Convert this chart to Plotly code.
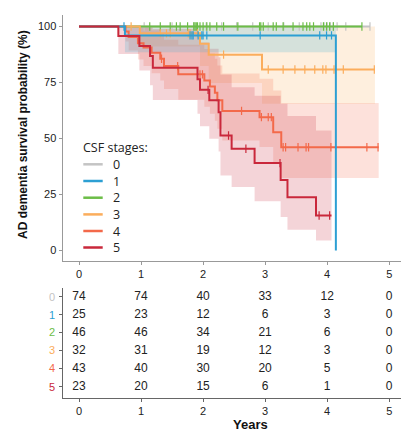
import plotly.graph_objects as go

# ---------------- data ----------------
stages = ["0", "1", "2", "3", "4", "5"]
colors = ["#c4c4c4", "#2c9fd3", "#6cbd47", "#fbad5c", "#f3694a", "#c9283b"]
fills = [None, "rgba(68,178,210,0.22)", None, "rgba(251,173,92,0.2)",
         "rgba(243,105,74,0.2)", "rgba(201,40,59,0.2)"]

# stage 0
s0_times = [0.0]
s0_surv = [100.0]
s0_end = 4.69
s0_cens = [1.05, 1.5, 1.85, 2.05, 2.3, 2.54, 2.8, 3.05, 3.3, 3.55, 3.9, 3.95,
           4.0, 4.05, 4.1, 4.16, 4.3, 4.69]
# stage 1
s1_times = [0.0, 0.74, 4.14]
s1_surv = [100.0, 96.0, 0.0]
s1_lower = [100.0, 88.5, 0.0]
s1_upper = [100.0, 100.0, 0.0]
s1_end = 4.14
s1_cens = [0.725, 1.79, 1.82, 1.84, 1.92, 1.98, 2.0, 2.06, 2.92, 3.88, 3.99, 4.07]
# stage 2
s2_times = [0.0]
s2_surv = [100.0]
s2_end = 4.56
s2_cens = [1.14, 1.31, 1.47, 1.57, 1.63, 1.75, 1.85, 1.87, 1.89, 1.91, 1.95, 2.0,
           2.06, 2.11, 2.22, 2.33, 2.56, 2.91, 2.93, 2.97, 3.13, 3.18, 3.29, 3.45,
           3.61, 3.67, 3.72, 3.78, 3.94, 3.99, 4.04, 4.10, 4.56]
# stage 3
s3_times = [0.0, 0.98, 1.95, 2.09, 2.95]
s3_surv = [100.0, 96.9, 92.3, 87.4, 80.8]
s3_lower = [100.0, 91.0, 82.3, 74.8, 65.5]
s3_upper = [100.0, 100.0, 100.0, 100.0, 100.0]
s3_end = 4.77
s3_cens = [0.84, 1.31, 1.41, 1.47, 1.76, 1.79, 1.91, 2.33, 3.05, 3.29, 3.48,
           3.64, 3.80, 3.93, 3.98, 4.11, 4.26, 4.76]
# stage 4
s4_times = [0.0, 0.75, 0.80, 0.95, 1.04, 1.17, 1.31, 1.37, 1.60, 2.02, 2.11,
            2.19, 2.23, 2.31, 2.91, 3.13, 3.26]
s4_surv = [100.0, 97.7, 95.3, 92.5, 90.6, 88.2, 85.6, 82.3, 78.6, 75.9, 73.2,
           70.4, 67.0, 62.3, 59.5, 52.8, 46.1]
s4_lower = [100.0, 93.3, 89.2, 85.2, 82.3, 79.1, 75.9, 72.1, 67.3, 64.1, 61.0,
            57.9, 54.3, 49.1, 46.2, 39.0, 32.4]
s4_upper = [100.0, 100.0, 100.0, 100.0, 99.7, 98.3, 96.6, 94.0, 91.8, 89.9,
            87.9, 85.6, 82.6, 79.0, 76.7, 71.4, 65.8]
s4_end = 4.83
s4_cens = [1.33, 1.59, 1.95, 1.99, 2.62, 2.94, 3.05, 3.10, 3.29, 3.33, 3.53,
           3.66, 3.70, 4.06, 4.64, 4.82]
# stage 5
s5_times = [0.0, 0.634, 0.973, 1.145, 1.19, 1.91, 1.95, 2.10, 2.25, 2.28, 2.46,
            2.83, 3.25, 3.36, 3.82]
s5_surv = [100.0, 95.7, 91.3, 86.8, 81.6, 76.4, 71.7, 67.0, 61.7, 51.3, 45.4,
           39.0, 31.5, 23.8, 15.6]
s5_lower = [100.0, 87.7, 80.3, 73.7, 67.2, 61.0, 55.4, 49.9, 44.2, 33.5, 28.3,
            22.0, 14.9, 9.2, 4.5]
s5_upper = [100.0, 100.0, 100.0, 100.0, 98.9, 95.2, 92.8, 90.0, 86.2, 78.5,
            72.8, 69.1, 65.5, 60.0, 53.5]
s5_end = 4.07
s5_cens = [2.08, 2.41, 2.69, 3.24, 3.87, 4.04]

# numbers at risk
risk_years = [0, 1, 2, 3, 4, 5]
risk_0 = [74, 74, 40, 33, 12, 0]
risk_1 = [25, 23, 12, 6, 3, 0]
risk_2 = [46, 46, 34, 21, 6, 0]
risk_3 = [32, 31, 19, 12, 3, 0]
risk_4 = [43, 40, 30, 20, 5, 0]
risk_5 = [23, 20, 15, 6, 1, 0]

y_ticks = [0, 25, 50, 75, 100]

# ---------------- helpers ----------------
W, H = 404, 433


def px(x):
    return x / W


def py(y):
    return 1 - y / H


def step_value(times, surv, t):
    v = surv[0]
    for tt, s in zip(times, surv):
        if tt <= t:
            v = s
    return v


def ci_poly(times, lower, upper, end):
    xs, ys = [], []
    n = len(times)
    for i in range(n):
        tn = times[i + 1] if i + 1 < n else end
        xs += [times[i], tn]
        ys += [upper[i], upper[i]]
    for i in reversed(range(n)):
        tn = times[i + 1] if i + 1 < n else end
        xs += [tn, times[i]]
        ys += [lower[i], lower[i]]
    return xs, ys


curves = [
    (s0_times, s0_surv, None, None, s0_end, s0_cens),
    (s1_times, s1_surv, s1_lower, s1_upper, s1_end, s1_cens),
    (s2_times, s2_surv, None, None, s2_end, s2_cens),
    (s3_times, s3_surv, s3_lower, s3_upper, s3_end, s3_cens),
    (s4_times, s4_surv, s4_lower, s4_upper, s4_end, s4_cens),
    (s5_times, s5_surv, s5_lower, s5_upper, s5_end, s5_cens),
]

fig = go.Figure()

# confidence bands
for k in [3, 4, 5, 1]:
    times, surv, lo, up, end, cens = curves[k]
    xs, ys = ci_poly(times, lo, up, end)
    fig.add_trace(go.Scatter(x=xs, y=ys, mode="lines", line=dict(width=0),
                             fill="toself", fillcolor=fills[k],
                             hoverinfo="skip", showlegend=False,
                             xaxis="x", yaxis="y"))

# survival lines + censor marks
for k in [0, 2, 3, 4, 1, 5]:
    times, surv, lo, up, end, cens = curves[k]
    fig.add_trace(go.Scatter(x=list(times) + [end], y=list(surv) + [surv[-1]],
                             mode="lines", line=dict(color=colors[k], width=2,
                                                     shape="hv"),
                             showlegend=False, xaxis="x", yaxis="y"))
    fig.add_trace(go.Scatter(x=cens, y=[step_value(times, surv, t) for t in cens],
                             mode="markers",
                             marker=dict(symbol="line-ns", size=6,
                                         line=dict(color=colors[k], width=1.2)),
                             showlegend=False, xaxis="x", yaxis="y"))

# risk table
risk_rows = [risk_0, risk_1, risk_2, risk_3, risk_4, risk_5]
tx, ty, tt = [], [], []
for i, row in enumerate(risk_rows):
    for yr, v in zip(risk_years, row):
        tx.append(yr)
        ty.append(i)
        tt.append(str(v))
fig.add_trace(go.Scatter(x=tx, y=ty, text=tt, mode="text",
                         textfont=dict(family="Liberation Sans, Arial", size=12,
                                       color="#222"),
                         showlegend=False, xaxis="x2", yaxis="y2"))

tickfont = dict(family="Liberation Sans, Arial", size=11, color="#222")
xdom = [px(62.7), px(401)]
xrange = [-0.263, 5.19]

fig.update_layout(
    width=W, height=H, autosize=False,
    margin=dict(l=0, r=0, t=0, b=0),
    paper_bgcolor="white", plot_bgcolor="white",
    xaxis=dict(domain=xdom, range=xrange, anchor="y", tickvals=risk_years,
               ticks="outside", ticklen=3, tickcolor="#999", showline=True,
               linecolor="#999", linewidth=1.3, showgrid=False, zeroline=False,
               tickfont=tickfont),
    yaxis=dict(domain=[py(261), py(15)], range=[-4.7, 105.1], anchor="x",
               tickvals=y_ticks, ticks="outside", ticklen=3, tickcolor="#999",
               showline=True, linecolor="#999", linewidth=1.3, showgrid=False,
               zeroline=False, tickfont=tickfont),
    xaxis2=dict(domain=xdom, range=xrange, anchor="y2", tickvals=risk_years,
                ticks="outside", ticklen=3, tickcolor="#666", showline=True,
                linecolor="#666", linewidth=1.3, showgrid=False, zeroline=False,
                tickfont=tickfont),
    yaxis2=dict(domain=[py(398), py(288)], range=[5.63, -0.48], anchor="x2",
                tickvals=list(range(6)), ticks="outside", ticklen=3,
                tickcolor="#666", showline=True, linecolor="#666", linewidth=1.3,
                showticklabels=False, showgrid=False, zeroline=False),
)

ann = []
ann.append(dict(text="<b>AD dementia survival probability (%)</b>", textangle=-90,
                x=px(23), y=py(135), xref="paper", yref="paper",
                xanchor="center", yanchor="middle",
                showarrow=False, font=dict(family="Liberation Sans, Arial",
                                           size=12, color="#111")))
ann.append(dict(text="<b>Years</b>", x=px(250), y=py(424), xref="paper",
                yref="paper", xanchor="center", yanchor="middle", showarrow=False,
                font=dict(family="Liberation Sans, Arial", size=13, color="#111")))
ann.append(dict(text="CSF stages:", x=px(81), y=py(147), xref="paper",
                yref="paper", xanchor="left", yanchor="middle", showarrow=False,
                font=dict(family="Open Sans", size=12.5, color="#222")))
leg_y = [164.3, 181.0, 197.7, 214.4, 231.0, 247.5]
shapes = []
for k in range(6):
    shapes.append(dict(type="line", xref="paper", yref="paper",
                       x0=px(83.3), x1=px(102.7), y0=py(leg_y[k]), y1=py(leg_y[k]),
                       line=dict(color=colors[k], width=2.5)))
    ann.append(dict(text=stages[k], x=px(111), y=py(leg_y[k]), xref="paper",
                    yref="paper", xanchor="left", yanchor="middle",
                    showarrow=False,
                    font=dict(family="Open Sans", size=12.5, color="#222")))
row_y = [296.7, 314.5, 332.4, 350.3, 368.3, 386.5]
for k in range(6):
    ann.append(dict(text=stages[k], x=px(56.5), y=py(row_y[k]), xref="paper",
                    yref="paper", xanchor="right", yanchor="middle",
                    showarrow=False,
                    font=dict(family="Liberation Sans, Arial", size=11,
                              color=colors[k])))
fig.update_layout(annotations=ann, shapes=shapes)

fig.write_html("out.html", config={"displayModeBar": False},
               post_script="document.body.style.margin='0';"
                           "document.body.style.padding='0';"
                           "document.body.style.overflow='hidden';")
